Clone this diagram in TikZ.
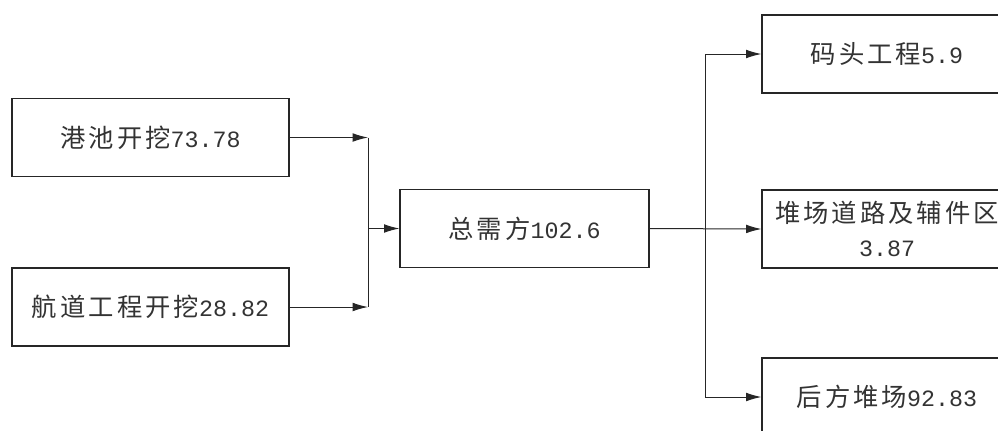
\documentclass[tikz,border=0pt]{standalone}
\usepackage{fontspec}
\setmainfont{Noto Sans CJK SC}[LetterSpace=12]
\newfontfamily\numfont{Liberation Mono}
\newcommand\val[1]{{\numfont\fontsize{17.5pt}{25.5pt}\selectfont #1}}
\usetikzlibrary{arrows.meta}
\tikzset{
    box/.style={draw=black!85, line width=0.9pt, text=black!80, align=center,
        minimum height=58.5pt, inner sep=0pt,
        font=\fontsize{19pt}{25.5pt}\selectfont},
    srcbox/.style={box, minimum width=207.75pt},
    dstbox/.style={box, minimum width=187.5pt}
}
\tikzset{
    link/.style={draw=black!85, line width=0.75pt},
    >={Latex[length=11.5pt,width=6.5pt]}
}

\begin{document}
\begin{tikzpicture}[x=0.75pt, y=-0.75pt]
    \path[use as bounding box] (0,0) rectangle (998,430);
    \clip (0,0) rectangle (998,430);

    \node[srcbox] (harbour) at (150.5,137.5) {港池开挖\val{73.78}};
    \node[srcbox] (channel) at (150.5,307) {航道工程开挖\val{28.82}};
    \node[box, minimum width=186.75pt] (total) at (524.5,228.5) {总需方\val{102.6}};
    \node[dstbox] (wharf) at (887,54) {码头工程\val{5.9}};
    \node[dstbox] (yardroad) at (887,229) {堆场道路及辅件区\\\val{3.87}};
    \node[dstbox] (backyard) at (887,397) {后方堆场\val{92.83}};

    \coordinate (merge) at (368,228.5);
    \coordinate (split) at (705,228.5);

    \draw[link,->] (harbour.east) -- (harbour.east -| merge);
    \draw[link,->] (channel.east) -- (channel.east -| merge);
    \draw[link] (harbour.east -| merge) -- (channel.east -| merge);
    \draw[link,->] (merge) -- (total.west);

    \draw[link,->] (total.east) -- (yardroad.west);
    \draw[link] (wharf.west -| split) -- (backyard.west -| split);
    \draw[link,->] (wharf.west -| split) -- (wharf.west);
    \draw[link,->] (backyard.west -| split) -- (backyard.west);
\end{tikzpicture}
\end{document}
